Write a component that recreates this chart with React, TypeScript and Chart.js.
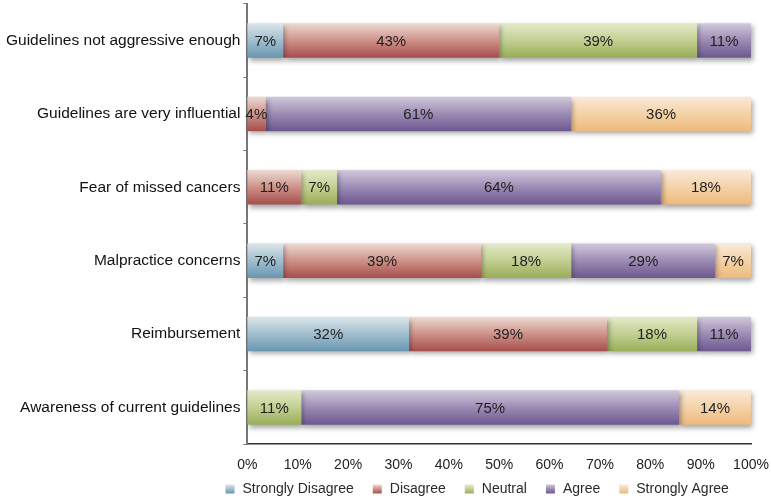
import { useEffect, useRef } from 'react';
import { Chart, registerables } from 'chart.js';

Chart.register(...registerables);

const categories = [
  'Guidelines not aggressive enough',
  'Guidelines are very influential',
  'Fear of missed cancers',
  'Malpractice concerns',
  'Reimbursement',
  'Awareness of current guidelines',
];

const seriesNames = ['Strongly Disagree', 'Disagree', 'Neutral', 'Agree', 'Strongly Agree'];

const stronglyDisagree = [7.1, null, null, 7.1, 32.1, null];
const disagree = [42.9, 3.6, 10.7, 39.3, 39.3, null];
const neutral = [39.3, null, 7.1, 17.9, 17.9, 10.7];
const agree = [10.7, 60.7, 64.3, 28.6, 10.7, 75.0];
const stronglyAgree = [null, 35.7, 17.9, 7.1, null, 14.3];

const xTickValues = [0, 10, 20, 30, 40, 50, 60, 70, 80, 90, 100];

// [top, middle, bottom]
const palettes = [
  ['#dbe5e9', '#a1bece', '#6896b0'],
  ['#ecdbd2', '#ce9189', '#a54e4b'],
  ['#e5eacb', '#c2cf91', '#98ad58'],
  ['#d2c9dc', '#9c8bb4', '#6d5890'],
  ['#f9eada', '#f4d2a8', '#edba7b'],
];

const FONT = '"Liberation Sans", Arial, Helvetica, sans-serif';
const BAR_FRACTION = 0.47;

function makeFill(index: number) {
  return (ctx: any) => {
    const pal = palettes[index];
    const chart = ctx.chart;
    const y = chart.scales && chart.scales.y;
    if (!y || ctx.type !== 'data' || !isFinite(y.height) || y.height <= 0) return pal[2];
    const yc = y.getPixelForValue(ctx.dataIndex);
    const half = ((y.height / categories.length) * BAR_FRACTION) / 2;
    const g = chart.ctx.createLinearGradient(0, yc - half, 0, yc + half);
    g.addColorStop(0, pal[0]);
    g.addColorStop(0.5, pal[1]);
    g.addColorStop(1, pal[2]);
    return g;
  };
}

const shadowPlugin = {
  id: 'barShadow',
  beforeDatasetsDraw(chart: any) {
    const c = chart.ctx;
    c.save();
    c.shadowColor = 'rgba(0,0,0,0.35)';
    c.shadowBlur = 5;
    c.shadowOffsetX = 2;
    c.shadowOffsetY = 3;
  },
  afterDatasetsDraw(chart: any) {
    chart.ctx.restore();
  },
};

const valueLabels = {
  id: 'valueLabels',
  afterDatasetsDraw(chart: any) {
    const c = chart.ctx;
    c.save();
    c.font = '15px ' + FONT;
    c.fillStyle = '#1e1e1e';
    c.textAlign = 'center';
    c.textBaseline = 'middle';
    chart.data.datasets.forEach((ds: any, i: number) => {
      const meta = chart.getDatasetMeta(i);
      meta.data.forEach((el: any, j: number) => {
        const v = ds.data[j];
        if (v == null) return;
        const p = el.getProps(['x', 'base', 'y'], true);
        c.fillText(Math.round(v) + '%', (p.x + p.base) / 2, p.y + 1);
      });
    });
    c.restore();
  },
};

const bottomLegend = {
  id: 'bottomLegend',
  afterDraw(chart: any) {
    const c = chart.ctx;
    const box = 9;
    const textGap = 8;
    const itemGap = 19;
    c.save();
    c.font = '14px ' + FONT;
    c.textBaseline = 'middle';
    c.textAlign = 'left';
    const widths = seriesNames.map((n) => c.measureText(n).width);
    const total =
      widths.reduce((a, b) => a + b, 0) + seriesNames.length * (box + textGap) + (seriesNames.length - 1) * itemGap;
    const area = chart.chartArea;
    let x = (area.left + area.right) / 2 - total / 2 - 22;
    const y = chart.height - 12;
    seriesNames.forEach((name, i) => {
      const pal = palettes[i];
      const g = c.createLinearGradient(0, y - box / 2, 0, y + box / 2);
      g.addColorStop(0, pal[0]);
      g.addColorStop(0.5, pal[1]);
      g.addColorStop(1, pal[2]);
      c.fillStyle = g;
      c.fillRect(x, y - box / 2, box, box);
      x += box + textGap;
      c.fillStyle = '#2a2a2a';
      c.fillText(name, x, y);
      x += widths[i] + itemGap;
    });
    c.restore();
  },
};

export default function App() {
  const canvasRef = useRef<HTMLCanvasElement | null>(null);

  useEffect(() => {
    if (!canvasRef.current) return;
    Chart.defaults.font.family = FONT;
    Chart.defaults.color = '#222';
    const seriesData = [stronglyDisagree, disagree, neutral, agree, stronglyAgree];
    const chart = new Chart(canvasRef.current, {
      type: 'bar',
      data: {
        labels: categories,
        datasets: seriesNames.map((name, i) => ({
          label: name,
          data: seriesData[i],
          backgroundColor: makeFill(i),
          borderWidth: 0,
          categoryPercentage: 1,
          barPercentage: BAR_FRACTION,
          clip: false as any,
        })),
      },
      options: {
        indexAxis: 'y',
        animation: false,
        responsive: true,
        maintainAspectRatio: false,
        layout: { padding: { top: 3, right: 20, bottom: 25, left: 3 } },
        scales: {
          x: {
            stacked: true,
            min: 0,
            max: 100,
            afterBuildTicks: (axis: any) => {
              axis.ticks = xTickValues.map((v) => ({ value: v }));
            },
            ticks: {
              callback: (v: any) => v + '%',
              font: { size: 14 },
              color: '#222',
              padding: 2,
            },
            grid: { display: false, drawTicks: true, tickLength: 11 },
            border: { display: true, color: '#333', width: 1.5 },
          },
          y: {
            stacked: true,
            ticks: { font: { size: 15.5, lineHeight: 0.1 }, color: '#111', padding: 3 },
            grid: {
              display: true,
              drawOnChartArea: false,
              drawTicks: true,
              tickLength: 4,
              color: '#777',
              lineWidth: 1,
            },
            border: { display: true, color: '#777', width: 2 },
          },
        },
        plugins: {
          legend: { display: false },
          tooltip: { enabled: false },
        },
      },
      plugins: [shadowPlugin, valueLabels, bottomLegend],
    });
    return () => chart.destroy();
  }, []);

  return (
    <div style={{ position: 'fixed', left: 0, top: 0, width: 771, height: 501, background: '#fff' }}>
      <canvas ref={canvasRef} />
    </div>
  );
}
